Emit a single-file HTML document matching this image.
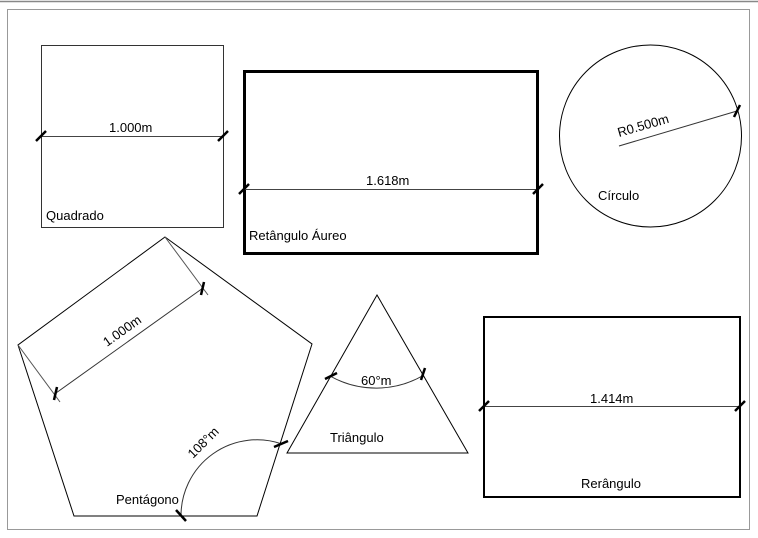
<!DOCTYPE html>
<html><head><meta charset="utf-8"><style>
html,body{margin:0;padding:0;background:#fff;}
svg{display:block;font-family:"Liberation Sans",Arial,sans-serif;}
</style></head><body>
<svg width="758" height="538" viewBox="0 0 758 538" xmlns="http://www.w3.org/2000/svg">
<line x1="0" y1="1.5" x2="758" y2="1.5" stroke="#888" stroke-width="1.5"/>
<rect x="7.5" y="9.5" width="742" height="520" fill="none" stroke="#999" stroke-width="1"/>
<g fill="none" stroke="#000" stroke-width="1">
<rect x="41.5" y="45.5" width="182" height="182" stroke="#333"/>
<line x1="41" y1="136.5" x2="223" y2="136.5" stroke="#444"/>
<rect x="244.5" y="71.5" width="293" height="182" stroke-width="3"/>
<line x1="244" y1="189.5" x2="538" y2="189.5" stroke="#444"/>
<circle cx="650.5" cy="136" r="91"/>
<line x1="619" y1="146" x2="737" y2="111" stroke="#333"/>
<polygon points="165,237 312,344 257,516 74,516 18,345"/>
<line x1="18" y1="345" x2="60" y2="402" stroke="#555"/>
<line x1="165" y1="237" x2="208" y2="295" stroke="#555"/>
<line x1="56" y1="393" x2="203" y2="288" stroke="#333"/>
<path d="M181,516 A76,76 0 0 1 282,444" stroke="#333"/>
<polygon points="377,295 468,453 287,453"/>
<path d="M330,376 A94,94 0 0 0 424,375" stroke="#333"/>
<rect x="484" y="317" width="256" height="180" stroke-width="2"/>
<line x1="484" y1="406.5" x2="740" y2="406.5" stroke="#444"/>
</g>
<g stroke="#000" stroke-width="2.5" stroke-linecap="butt">
<line x1="36" y1="141" x2="46" y2="131"/>
<line x1="218" y1="141" x2="228" y2="131"/>
<line x1="239" y1="194" x2="249" y2="184"/>
<line x1="533" y1="194" x2="543" y2="184"/>
<line x1="734" y1="117" x2="740" y2="105"/>
<line x1="54" y1="400" x2="57" y2="387"/>
<line x1="201" y1="295" x2="204" y2="282"/>
<line x1="176" y1="510" x2="186" y2="521"/>
<line x1="274" y1="447" x2="288" y2="441"/>
<line x1="325" y1="379" x2="337" y2="373"/>
<line x1="421" y1="380" x2="425" y2="368"/>
<line x1="479" y1="411" x2="489" y2="401"/>
<line x1="735" y1="411" x2="745" y2="401"/>
</g>
<g font-size="13" fill="#000">
<text x="109" y="132">1.000m</text>
<text x="46" y="220">Quadrado</text>
<text x="366" y="185">1.618m</text>
<text x="249" y="240">Retângulo Áureo</text>
<text x="0" y="0" transform="translate(619,137) rotate(-16)">R0.500m</text>
<text x="598" y="200">Círculo</text>
<text x="0" y="0" transform="translate(107,347) rotate(-35.5)">1.000m</text>
<text x="0" y="0" transform="translate(193,459) rotate(-45)">108°m</text>
<text x="116" y="504">Pentágono</text>
<text x="361" y="385">60°m</text>
<text x="330" y="442">Triângulo</text>
<text x="590" y="403">1.414m</text>
<text x="581" y="488">Rerângulo</text>
</g>
</svg>
</body></html>
